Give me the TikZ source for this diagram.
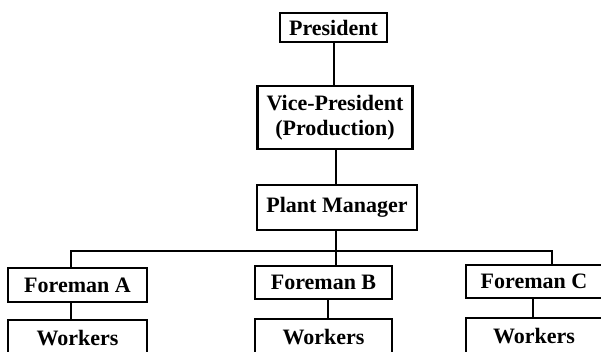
\documentclass[tikz,border=0pt]{standalone}
\usepackage{fontspec}
\setmainfont{Liberation Serif}
\begin{document}
\begin{tikzpicture}[x=1pt,y=-1pt,
  box/.style={draw, line width=2.2pt, inner sep=0pt, align=center,
    font=\fontsize{22}{25}\selectfont\bfseries},
  conn/.style={line width=2pt}]
\useasboundingbox (0,0) rectangle (601,352);
\clip (0,0) rectangle (601,352);
\node[box, minimum width=107pt, minimum height=29pt] (pres) at (333.5,27.5) {President};
\node[box, minimum width=155pt, minimum height=63pt] (vp) at (335,117.5) {Vice-President\\(Production)};
\node[box, minimum width=160pt, minimum height=45pt] (pm) at (337,207.5) {Plant Manager};
\node[box, minimum width=139pt, minimum height=34pt] (fa) at (77.5,285) {Foreman A};
\node[box, minimum width=139pt, minimum height=36pt] (wa) at (77.5,338) {Workers};
\node[box, minimum width=137pt, minimum height=33pt] (fb) at (323.5,282.5) {Foreman B};
\node[box, minimum width=137pt, minimum height=36pt] (wb) at (323.5,337) {Workers};
\node[box, minimum width=136pt, minimum height=33pt] (fc) at (534,281.5) {Foreman C};
\node[box, minimum width=136pt, minimum height=36pt] (wc) at (534,336) {Workers};
\coordinate (barL) at (71,251);
\coordinate (barM) at (336,251);
\coordinate (barR) at (552,251);
\coordinate (xb) at (328,0);
\coordinate (xc) at (533,0);
\draw[conn] (pres.south) -- (pres.south |- vp.north);
\draw[conn] (vp.south -| barM) -- (barM |- pm.north);
\draw[conn] (pm.south -| barM) -- (barM);
\draw[conn] (barL |- fa.north) -- (barL) -- (barR) -- (barR |- fc.north);
\draw[conn] (barM) -- (barM |- fb.north);
\draw[conn] (fa.south -| barL) -- (barL |- wa.north);
\draw[conn] (fb.south -| xb) -- (xb |- wb.north);
\draw[conn] (fc.south -| xc) -- (xc |- wc.north);
\end{tikzpicture}
\end{document}
